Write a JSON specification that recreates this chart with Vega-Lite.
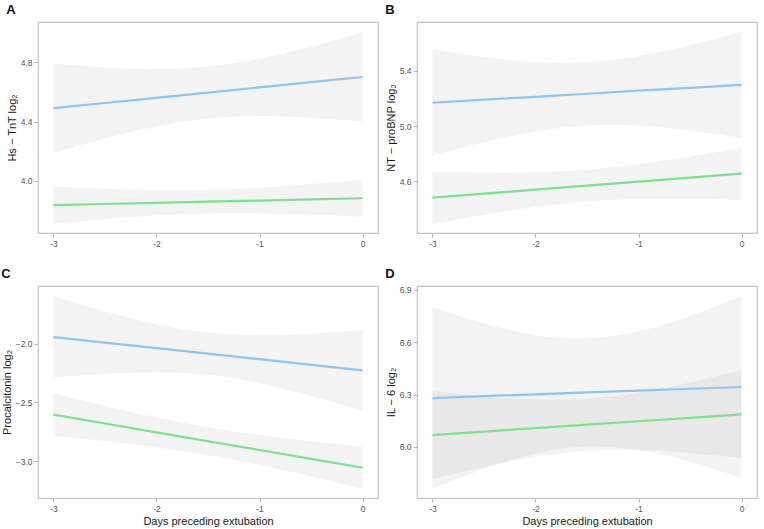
{
  "$schema": "https://vega.github.io/schema/vega-lite/v6.json",
  "background": "white",
  "padding": {"left": 0, "top": 3, "right": 4, "bottom": 4},
  "config": {
    "view": {"stroke": "#c4c4c4", "strokeWidth": 1.2},
    "axis": {"grid": false, "domain": false, "tickColor": "#b8b8b8", "tickSize": 4, "labelColor": "#555555", "labelFontSize": 8.5, "labelFont": "Liberation Sans", "labelPadding": 2, "titleFont": "Liberation Sans", "titleFontWeight": "normal", "titleFontSize": 11, "titleColor": "#1a1a1a", "titlePadding": 3},
    "title": {"font": "Liberation Sans", "fontSize": 13, "fontWeight": "bold", "color": "#111111", "anchor": "start", "frame": "bounds", "offset": 5}
  },
  "datasets": {
    "d": [
      {"panel": "A", "group": "g1", "x": -3, "fit": 4.49, "lo": 4.19, "hi": 4.79},
      {"panel": "A", "group": "g1", "x": -2.5, "fit": 4.525, "lo": 4.286, "hi": 4.764},
      {"panel": "A", "group": "g1", "x": -2, "fit": 4.56, "lo": 4.367, "hi": 4.753},
      {"panel": "A", "group": "g1", "x": -1.5, "fit": 4.595, "lo": 4.42, "hi": 4.77},
      {"panel": "A", "group": "g1", "x": -1, "fit": 4.63, "lo": 4.437, "hi": 4.823},
      {"panel": "A", "group": "g1", "x": -0.5, "fit": 4.665, "lo": 4.426, "hi": 4.904},
      {"panel": "A", "group": "g1", "x": 0, "fit": 4.70, "lo": 4.40, "hi": 5.00},
      {"panel": "A", "group": "g2", "x": -3, "fit": 3.837, "lo": 3.712, "hi": 3.962},
      {"panel": "A", "group": "g2", "x": -2.5, "fit": 3.845, "lo": 3.743, "hi": 3.948},
      {"panel": "A", "group": "g2", "x": -2, "fit": 3.853, "lo": 3.767, "hi": 3.939},
      {"panel": "A", "group": "g2", "x": -1.5, "fit": 3.861, "lo": 3.781, "hi": 3.941},
      {"panel": "A", "group": "g2", "x": -1, "fit": 3.868, "lo": 3.782, "hi": 3.954},
      {"panel": "A", "group": "g2", "x": -0.5, "fit": 3.876, "lo": 3.774, "hi": 3.979},
      {"panel": "A", "group": "g2", "x": 0, "fit": 3.884, "lo": 3.759, "hi": 4.009},
      {"panel": "B", "group": "g1", "x": -3, "fit": 5.17, "lo": 4.785, "hi": 5.555},
      {"panel": "B", "group": "g1", "x": -2.5, "fit": 5.192, "lo": 4.883, "hi": 5.501},
      {"panel": "B", "group": "g1", "x": -2, "fit": 5.213, "lo": 4.961, "hi": 5.465},
      {"panel": "B", "group": "g1", "x": -1.5, "fit": 5.235, "lo": 5.005, "hi": 5.465},
      {"panel": "B", "group": "g1", "x": -1, "fit": 5.257, "lo": 5.005, "hi": 5.509},
      {"panel": "B", "group": "g1", "x": -0.5, "fit": 5.278, "lo": 4.969, "hi": 5.587},
      {"panel": "B", "group": "g1", "x": 0, "fit": 5.30, "lo": 4.915, "hi": 5.685},
      {"panel": "B", "group": "g2", "x": -3, "fit": 4.482, "lo": 4.292, "hi": 4.672},
      {"panel": "B", "group": "g2", "x": -2.5, "fit": 4.511, "lo": 4.358, "hi": 4.664},
      {"panel": "B", "group": "g2", "x": -2, "fit": 4.540, "lo": 4.414, "hi": 4.666},
      {"panel": "B", "group": "g2", "x": -1.5, "fit": 4.569, "lo": 4.454, "hi": 4.684},
      {"panel": "B", "group": "g2", "x": -1, "fit": 4.598, "lo": 4.472, "hi": 4.724},
      {"panel": "B", "group": "g2", "x": -0.5, "fit": 4.627, "lo": 4.474, "hi": 4.780},
      {"panel": "B", "group": "g2", "x": 0, "fit": 4.656, "lo": 4.466, "hi": 4.846},
      {"panel": "C", "group": "g1", "x": -3, "fit": -1.943, "lo": -2.288, "hi": -1.598},
      {"panel": "C", "group": "g1", "x": -2.5, "fit": -1.990, "lo": -2.256, "hi": -1.724},
      {"panel": "C", "group": "g1", "x": -2, "fit": -2.038, "lo": -2.243, "hi": -1.833},
      {"panel": "C", "group": "g1", "x": -1.5, "fit": -2.085, "lo": -2.265, "hi": -1.905},
      {"panel": "C", "group": "g1", "x": -1, "fit": -2.132, "lo": -2.337, "hi": -1.927},
      {"panel": "C", "group": "g1", "x": -0.5, "fit": -2.180, "lo": -2.446, "hi": -1.914},
      {"panel": "C", "group": "g1", "x": 0, "fit": -2.227, "lo": -2.572, "hi": -1.882},
      {"panel": "C", "group": "g2", "x": -3, "fit": -2.605, "lo": -2.785, "hi": -2.425},
      {"panel": "C", "group": "g2", "x": -2.5, "fit": -2.680, "lo": -2.830, "hi": -2.530},
      {"panel": "C", "group": "g2", "x": -2, "fit": -2.756, "lo": -2.884, "hi": -2.628},
      {"panel": "C", "group": "g2", "x": -1.5, "fit": -2.831, "lo": -2.951, "hi": -2.711},
      {"panel": "C", "group": "g2", "x": -1, "fit": -2.906, "lo": -3.034, "hi": -2.778},
      {"panel": "C", "group": "g2", "x": -0.5, "fit": -2.982, "lo": -3.132, "hi": -2.832},
      {"panel": "C", "group": "g2", "x": 0, "fit": -3.057, "lo": -3.237, "hi": -2.877},
      {"panel": "D", "group": "g1", "x": -3, "fit": 6.280, "lo": 5.760, "hi": 6.800},
      {"panel": "D", "group": "g1", "x": -2.5, "fit": 6.291, "lo": 5.874, "hi": 6.708},
      {"panel": "D", "group": "g1", "x": -2, "fit": 6.301, "lo": 5.961, "hi": 6.641},
      {"panel": "D", "group": "g1", "x": -1.5, "fit": 6.312, "lo": 6.002, "hi": 6.622},
      {"panel": "D", "group": "g1", "x": -1, "fit": 6.322, "lo": 5.982, "hi": 6.662},
      {"panel": "D", "group": "g1", "x": -0.5, "fit": 6.333, "lo": 5.916, "hi": 6.750},
      {"panel": "D", "group": "g1", "x": 0, "fit": 6.343, "lo": 5.823, "hi": 6.863},
      {"panel": "D", "group": "g2", "x": -3, "fit": 6.068, "lo": 5.816, "hi": 6.320},
      {"panel": "D", "group": "g2", "x": -2.5, "fit": 6.088, "lo": 5.886, "hi": 6.290},
      {"panel": "D", "group": "g2", "x": -2, "fit": 6.108, "lo": 5.943, "hi": 6.273},
      {"panel": "D", "group": "g2", "x": -1.5, "fit": 6.128, "lo": 5.978, "hi": 6.278},
      {"panel": "D", "group": "g2", "x": -1, "fit": 6.147, "lo": 5.982, "hi": 6.312},
      {"panel": "D", "group": "g2", "x": -0.5, "fit": 6.167, "lo": 5.965, "hi": 6.369},
      {"panel": "D", "group": "g2", "x": 0, "fit": 6.187, "lo": 5.935, "hi": 6.439}
    ]
  },
  "columns": 2,
  "spacing": {"row": 18, "column": 5},
  "concat": [
    {
      "title": "A",
      "width": 340, "height": 211,
      "data": {"name": "d"},
      "transform": [{"filter": "datum.panel == 'A'"}],
      "layer": [
        {"mark": {"type": "area", "interpolate": "natural", "color": "#999999", "opacity": 0.12, "clip": true},
         "encoding": {
           "x": {"field": "x", "type": "quantitative", "scale": {"domain": [-3.15, 0.15], "nice": false, "zero": false}, "axis": {"values": [-3, -2, -1, 0], "labelExpr": "'' + datum.value", "title": null}},
           "y": {"field": "lo", "type": "quantitative", "scale": {"domain": [3.65, 5.07], "nice": false, "zero": false}, "axis": {"values": [4.0, 4.4, 4.8], "format": ".1f", "title": "Hs − TnT log₂"}},
           "y2": {"field": "hi"},
           "detail": {"field": "group"}}},
        {"mark": {"type": "line", "strokeWidth": 2.2, "clip": true},
         "encoding": {
           "x": {"field": "x", "type": "quantitative"},
           "y": {"field": "fit", "type": "quantitative"},
           "color": {"field": "group", "type": "nominal", "scale": {"domain": ["g1", "g2"], "range": ["#8ec4f0", "#7ee08f"]}, "legend": null}}}
      ]
    },
    {
      "title": "B",
      "width": 340, "height": 211,
      "data": {"name": "d"},
      "transform": [{"filter": "datum.panel == 'B'"}],
      "layer": [
        {"mark": {"type": "area", "interpolate": "natural", "color": "#999999", "opacity": 0.12, "clip": true},
         "encoding": {
           "x": {"field": "x", "type": "quantitative", "scale": {"domain": [-3.15, 0.15], "nice": false, "zero": false}, "axis": {"values": [-3, -2, -1, 0], "labelExpr": "'' + datum.value", "title": null}},
           "y": {"field": "lo", "type": "quantitative", "scale": {"domain": [4.226, 5.755], "nice": false, "zero": false}, "axis": {"values": [4.6, 5.0, 5.4], "format": ".1f", "title": "NT − proBNP log₂"}},
           "y2": {"field": "hi"},
           "detail": {"field": "group"}}},
        {"mark": {"type": "line", "strokeWidth": 2.2, "clip": true},
         "encoding": {
           "x": {"field": "x", "type": "quantitative"},
           "y": {"field": "fit", "type": "quantitative"},
           "color": {"field": "group", "type": "nominal", "scale": {"domain": ["g1", "g2"], "range": ["#8ec4f0", "#7ee08f"]}, "legend": null}}}
      ]
    },
    {
      "title": "C",
      "width": 340, "height": 212,
      "data": {"name": "d"},
      "transform": [{"filter": "datum.panel == 'C'"}],
      "layer": [
        {"mark": {"type": "area", "interpolate": "natural", "color": "#999999", "opacity": 0.12, "clip": true},
         "encoding": {
           "x": {"field": "x", "type": "quantitative", "scale": {"domain": [-3.15, 0.15], "nice": false, "zero": false}, "axis": {"values": [-3, -2, -1, 0], "labelExpr": "'' + datum.value", "title": "Days preceding extubation"}},
           "y": {"field": "lo", "type": "quantitative", "scale": {"domain": [-3.315, -1.508], "nice": false, "zero": false}, "axis": {"values": [-3.0, -2.5, -2.0], "format": ".1f", "title": "Procalcitonin log₂"}},
           "y2": {"field": "hi"},
           "detail": {"field": "group"}}},
        {"mark": {"type": "line", "strokeWidth": 2.2, "clip": true},
         "encoding": {
           "x": {"field": "x", "type": "quantitative"},
           "y": {"field": "fit", "type": "quantitative"},
           "color": {"field": "group", "type": "nominal", "scale": {"domain": ["g1", "g2"], "range": ["#8ec4f0", "#7ee08f"]}, "legend": null}}}
      ]
    },
    {
      "title": "D",
      "width": 340, "height": 212,
      "data": {"name": "d"},
      "transform": [{"filter": "datum.panel == 'D'"}],
      "layer": [
        {"mark": {"type": "area", "interpolate": "natural", "color": "#999999", "opacity": 0.12, "clip": true},
         "encoding": {
           "x": {"field": "x", "type": "quantitative", "scale": {"domain": [-3.15, 0.15], "nice": false, "zero": false}, "axis": {"values": [-3, -2, -1, 0], "labelExpr": "'' + datum.value", "title": "Days preceding extubation"}},
           "y": {"field": "lo", "type": "quantitative", "scale": {"domain": [5.708, 6.921], "nice": false, "zero": false}, "axis": {"values": [6.0, 6.3, 6.6, 6.9], "format": ".1f", "title": "IL − 6 log₂"}},
           "y2": {"field": "hi"},
           "detail": {"field": "group"}}},
        {"mark": {"type": "line", "strokeWidth": 2.2, "clip": true},
         "encoding": {
           "x": {"field": "x", "type": "quantitative"},
           "y": {"field": "fit", "type": "quantitative"},
           "color": {"field": "group", "type": "nominal", "scale": {"domain": ["g1", "g2"], "range": ["#8ec4f0", "#7ee08f"]}, "legend": null}}}
      ]
    }
  ]
}
